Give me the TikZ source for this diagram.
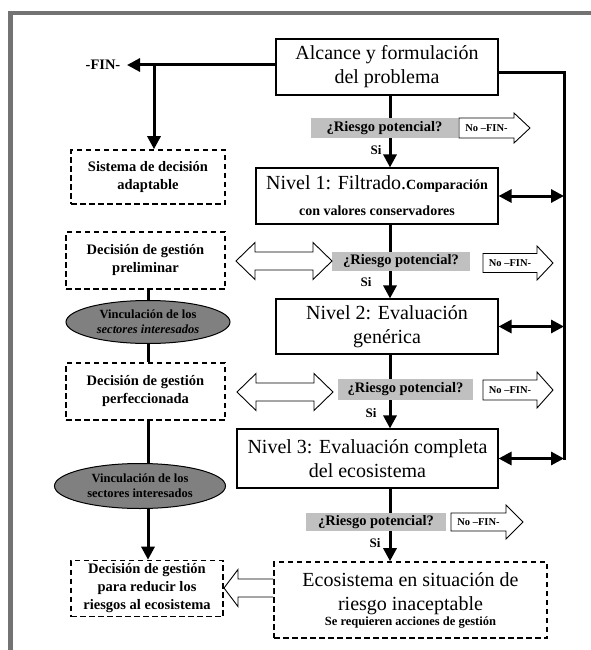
\documentclass[tikz,border=0pt]{standalone}
\usepackage{fontspec}
\setmainfont{Liberation Serif}
\usetikzlibrary{arrows.meta,backgrounds,calc,shapes.geometric}
\definecolor{framegray}{HTML}{737373}
\definecolor{boxgray}{HTML}{C0C0C0}
\definecolor{ellgray}{HTML}{808080}
\newcommand{\bigtxt}{\fontsize{20}{24}\selectfont}
\newcommand{\smbold}{\fontsize{14.5}{18}\selectfont\bfseries}
\newcommand{\cmpfont}{\fontsize{14}{18}\selectfont\bfseries}
\newcommand{\ellfont}{\fontsize{12.5}{15}\selectfont\bfseries}
\newcommand{\nofont}{\fontsize{10.5}{12}\selectfont\bfseries}
\newcommand{\sifont}{\fontsize{13}{15}\selectfont\bfseries}
\begin{document}
\begin{tikzpicture}[x=1pt,y=-1pt,
  solidbox/.style={draw, line width=1.1pt, fill=white, inner sep=0pt, align=center},
  dashbox/.style={draw, line width=1.6pt, dash pattern=on 5.5pt off 3.5pt, fill=white, inner sep=0pt, align=center, font=\smbold},
  graybox/.style={fill=boxgray, inner sep=0pt, font=\smbold},
  ellnode/.style={ellipse, draw, line width=1pt, fill=ellgray, inner sep=0pt, align=center, font=\ellfont},
  conn/.style={line width=3pt},
  arr/.style={-{Triangle[length=13pt,width=13pt]}},
  dblarr/.style={{Triangle[length=13pt,width=13pt]}-{Triangle[length=13pt,width=13pt]}},
  hollow/.style={draw, line width=0.9pt, fill=white, line join=miter},
  silbl/.style={font=\sifont, inner sep=0pt},
  nolbl/.style={font=\nofont, inner sep=0pt},
]
\useasboundingbox (0,0) rectangle (590,650);
\draw[framegray, line width=4.5pt] (10.5,660) -- (10.5,13) -- (600,13);

% coordinates for connector columns
\coordinate (cx) at (390,0);
\coordinate (lx) at (148,0);

% main boxes
\node[solidbox, minimum width=222, minimum height=56, font=\bigtxt] (top) at (387,67) {Alcance y formulación\\del problema};
\node[solidbox, minimum width=242, minimum height=56, font=\cmpfont] (n1) at (377,196) {{\bigtxt\mdseries Nivel 1: Filtrado.}Comparación\\[8pt]con valores conservadores};
\node[solidbox, minimum width=222, minimum height=55, font=\bigtxt] (n2) at (387,326.5) {Nivel 2: Evaluación\\genérica};
\node[solidbox, minimum width=261, minimum height=59, font=\bigtxt] (n3) at (367.5,458.5) {Nivel 3: Evaluación completa\\del ecosistema};
\node[dashbox, minimum width=273, minimum height=76, font=\bigtxt] (eco) at (410.5,600) {Ecosistema en situación de\\riesgo inaceptable\\[-9pt]{\fontsize{12.5}{15}\selectfont\bfseries Se requieren acciones de gestión}};

% left column
\node[dashbox, minimum width=154, minimum height=54] (sis) at (148,177) {Sistema de decisión\\adaptable};
\node[dashbox, minimum width=159, minimum height=57] (prel) at (145.5,260.5) {Decisión de gestión\\preliminar};
\node[dashbox, minimum width=159, minimum height=57] (perf) at (145.5,391.5) {Decisión de gestión\\perfeccionada};
\node[dashbox, minimum width=152, minimum height=56] (fin) at (147,588.5) {Decisión de gestión\\para reducir los\\riesgos al ecosistema};
\node[ellnode, minimum width=164, minimum height=43] (ell1) at (148,322) {Vinculación de los\\{\itshape sectores interesados}};
\node[ellnode, minimum width=171, minimum height=45] (ell2) at (140,486) {Vinculación de los\\sectores interesados};

% gray question boxes
\node[graybox, minimum width=147, minimum height=20] (g1) at (384.5,128) {¿Riesgo potencial?};
\node[graybox, minimum width=138, minimum height=19] (g2) at (401,261.5) {¿Riesgo potencial?};
\node[graybox, minimum width=135, minimum height=21] (g3) at (405.5,389.5) {¿Riesgo potencial?};
\node[graybox, minimum width=140, minimum height=18] (g4) at (376,522) {¿Riesgo potencial?};

% Si labels
\node[silbl] (si1) at (376,150) {Si};
\node[silbl] (si2) at (366,282) {Si};
\node[silbl] (si3) at (371,413) {Si};
\node[silbl] (si4) at (375,543) {Si};

% connectors behind boxes
\begin{scope}[on background layer]
\draw[conn, arr] (top.south -| cx) -- (n1.north -| cx);
\draw[conn, arr] (n1.south -| cx) -- (n2.north -| cx);
\draw[conn, arr] (n2.south -| cx) -- (n3.north -| cx);
\draw[conn, arr] (n3.south -| cx) -- (eco.north -| cx);
\draw[conn] (prel.south -| lx) -- (perf.north -| lx);
\draw[conn, arr] (perf.south -| lx) -- (fin.north -| lx);
\end{scope}

% -FIN- branch
\node[font=\smbold, inner sep=0pt] (finlbl) at (103,65) {-FIN-};
\coordinate (fintip) at (127,65);
\coordinate (br) at (154,65);
\draw[conn, arr] (top.west |- fintip) -- (fintip);
\draw[conn, arr] (br) -- (br |- sis.north);

% right feedback line
\coordinate (rc) at (564,73);
\coordinate (rb) at (564,458.5);
\draw[conn, line join=miter] (top.east |- rc) -- (rc) -- ($(rb)+(0,1.5)$);
\draw[conn, dblarr] (n1.east) -- (n1.east -| rc);
\draw[conn, dblarr] (n2.east) -- (n2.east -| rc);
\draw[conn, dblarr] (n3.east) -- (rb);

% "No -FIN-" block arrows
\draw[hollow] (459,118) -- (514,118) -- (514,113) -- (530,128) -- (514,143) -- (514,138) -- (459,138) -- cycle;
\node[nolbl] (nf1) at (486.5,128) {No –FIN-};
\draw[hollow] (483,253.5) -- (537,253.5) -- (537,246) -- (553,263) -- (537,280) -- (537,272.5) -- (483,272.5) -- cycle;
\node[nolbl] (nf2) at (510,263) {No –FIN-};
\draw[hollow] (483,380) -- (537,380) -- (537,372) -- (553,390) -- (537,408) -- (537,400) -- (483,400) -- cycle;
\node[nolbl] (nf3) at (510,390) {No –FIN-};
\draw[hollow] (451,513) -- (506,513) -- (506,505) -- (523,522) -- (506,539) -- (506,531) -- (451,531) -- cycle;
\node[nolbl] (nf4) at (478.5,522) {No –FIN-};

% hollow double arrows between decisions and questions
\draw[hollow] (236,261) -- (255,242.5) -- (255,252) -- (313,252) -- (313,242.5) -- (332,261) -- (313,279.5) -- (313,270) -- (255,270) -- (255,279.5) -- cycle;
\draw[hollow] (237,392) -- (256,373.5) -- (256,383) -- (314,383) -- (314,373.5) -- (333,392) -- (314,410.5) -- (314,401) -- (256,401) -- (256,410.5) -- cycle;

% hollow arrow from ecosystem box to final decision
\draw[hollow] (eco.west |- 0,579) -- (238,579) -- (238,569.5) -- (224,588) -- (238,606.5) -- (238,597) -- (eco.west |- 0,597);
\end{tikzpicture}
\end{document}
